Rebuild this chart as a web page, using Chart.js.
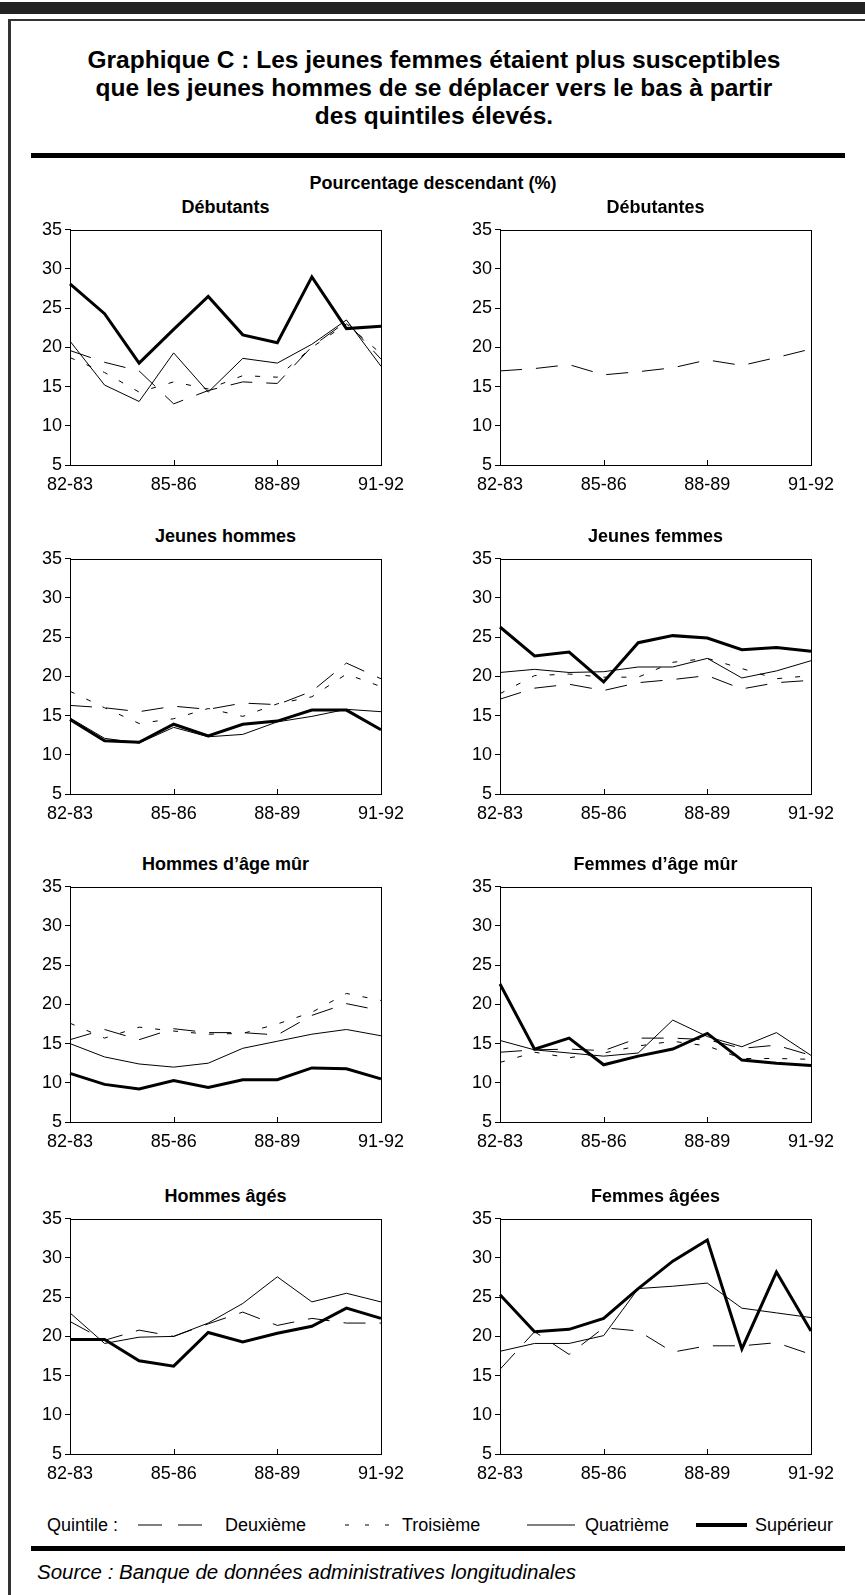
<!DOCTYPE html>
<html lang="fr">
<head>
<meta charset="utf-8">
<title>Graphique C</title>
<script src="https://cdn.jsdelivr.net/npm/chart.js@4.4.1/dist/chart.umd.min.js"></script>
<style>
  html, body { margin:0; padding:0; background:#fff; }
  body { width:865px; height:1595px; position:relative; overflow:hidden;
         font-family:"Liberation Sans", Arial, Helvetica, sans-serif; color:#000; }
  .abs { position:absolute; }
  #band { left:0; top:2px; width:865px; height:12px; background:#222; }
  #frameTop { left:8px; top:19px; width:857px; height:2px; background:#333; }
  #frameLeft { left:8px; top:19px; width:3px; height:1576px; background:#333; }
  #title { left:0; width:868px; top:46px; text-align:center; font-weight:bold; font-size:24.5px; line-height:28px; }
  .rule { left:31px; width:814px; height:5px; background:#000; }
  #subtitle { left:0; width:866px; top:172px; text-align:center; font-weight:bold; font-size:18px; line-height:22px; }
  .ptitle { font-weight:bold; font-size:18px; line-height:22px; text-align:center; white-space:nowrap; }
  .leg { font-size:18px; line-height:20px; white-space:nowrap; }
  #source { left:37px; top:1560px; font-style:italic; font-size:20.5px; line-height:24px; white-space:nowrap; }
  canvas { position:absolute; }
</style>
</head>
<body>
<div class="abs" id="band"></div>
<div class="abs" id="frameTop"></div>
<div class="abs" id="frameLeft"></div>
<div class="abs" id="title">Graphique C : Les jeunes femmes étaient plus susceptibles<br>que les jeunes hommes de se déplacer vers le bas à partir<br>des quintiles élevés.</div>
<div class="abs rule" style="top:153px"></div>
<div class="abs" id="subtitle">Pourcentage descendant (%)</div>
<div class="abs rule" style="top:1546px"></div>
<div class="abs" id="source">Source : Banque de données administratives longitudinales</div>

<script>
// x categories (years) and the tick labels actually printed
const seasons = ['82-83','83-84','84-85','85-86','86-87','87-88','88-89','89-90','90-91','91-92'];
const shownTicks = ['82-83','85-86','88-89','91-92'];
const yTicks = [5, 10, 15, 20, 25, 30, 35];
const quintiles = ['Deuxième', 'Troisième', 'Quatrième', 'Supérieur'];

// Débutants
const debQ2 = [19.6, 18.1, 17.0, 12.8, 14.5, 15.6, 15.4, 20.1, 23.3, 18.5];
const debQ3 = [18.7, 16.8, 14.3, 15.6, 14.7, 16.4, 16.2, 20.0, 23.0, 19.2];
const debQ4 = [20.8, 15.2, 13.1, 19.3, 14.3, 18.6, 18.0, 20.4, 23.5, 17.6];
const debQ5 = [28.1, 24.3, 18.0, 22.3, 26.5, 21.6, 20.6, 29.0, 22.4, 22.7];
// Débutantes
const debfQ2 = [17.0, 17.3, 17.8, 16.5, 16.9, 17.4, 18.4, 17.7, 18.7, 19.8];
// Jeunes hommes
const jhQ2 = [16.3, 16.0, 15.5, 16.2, 15.8, 16.6, 16.4, 18.1, 21.7, 19.7];
const jhQ3 = [18.1, 16.0, 14.0, 14.6, 15.9, 14.9, 16.5, 17.4, 20.3, 18.7];
const jhQ4 = [14.7, 12.1, 11.5, 13.5, 12.3, 12.6, 14.2, 14.9, 15.8, 15.5];
const jhQ5 = [14.5, 11.8, 11.6, 13.9, 12.4, 13.9, 14.3, 15.7, 15.7, 13.2];
// Jeunes femmes
const jfQ2 = [17.1, 18.5, 19.0, 18.2, 19.2, 19.6, 20.1, 18.4, 19.2, 19.5];
const jfQ3 = [17.8, 20.1, 20.3, 19.9, 19.9, 21.8, 22.3, 21.0, 19.7, 20.1];
const jfQ4 = [20.5, 20.9, 20.5, 20.6, 21.2, 21.2, 22.3, 19.8, 20.7, 22.0];
const jfQ5 = [26.3, 22.6, 23.1, 19.3, 24.3, 25.2, 24.9, 23.4, 23.7, 23.2];
// Hommes d'âge mûr
const hmQ2 = [15.5, 16.8, 15.5, 16.9, 16.4, 16.4, 16.1, 18.6, 20.1, 19.2];
const hmQ3 = [17.6, 15.7, 17.1, 16.6, 16.2, 16.3, 17.5, 19.0, 21.4, 20.5];
const hmQ4 = [15.0, 13.3, 12.4, 12.0, 12.5, 14.4, 15.3, 16.2, 16.8, 16.0];
const hmQ5 = [11.2, 9.8, 9.2, 10.3, 9.4, 10.4, 10.4, 11.9, 11.8, 10.5];
// Femmes d'âge mûr
const fmQ2 = [13.9, 14.2, 14.3, 14.1, 15.7, 15.7, 15.5, 14.4, 14.8, 13.5];
const fmQ3 = [12.6, 13.9, 13.2, 13.8, 14.7, 15.3, 14.7, 13.1, 13.1, 13.0];
const fmQ4 = [15.4, 14.2, 13.8, 13.4, 13.8, 18.0, 15.9, 14.6, 16.4, 13.5];
const fmQ5 = [22.6, 14.3, 15.7, 12.3, 13.4, 14.3, 16.3, 12.9, 12.5, 12.2];
// Hommes âgés
const haQ2 = [21.9, 19.5, 20.8, 20.0, 21.6, 23.1, 21.4, 22.3, 21.7, 21.7];
const haQ4 = [23.0, 19.1, 19.9, 20.0, 21.7, 24.2, 27.6, 24.4, 25.5, 24.4];
const haQ5 = [19.6, 19.6, 16.9, 16.2, 20.5, 19.3, 20.4, 21.3, 23.6, 22.3];
// Femmes âgées
const faQ2 = [15.8, 20.6, 17.7, 21.1, 20.7, 18.0, 18.8, 18.8, 19.2, 17.7];
const faQ4 = [18.1, 19.1, 19.1, 20.1, 26.1, 26.4, 26.8, 23.6, 23.0, 22.4];
const faQ5 = [25.3, 20.6, 20.9, 22.3, 26.1, 29.6, 32.3, 18.4, 28.2, 20.7];

// panel list: title + series in quintile order (null = not drawn)
const panels = [
  { title: 'Débutants',        series: [debQ2, debQ3, debQ4, debQ5] },
  { title: 'Débutantes',       series: [debfQ2, null, null, null] },
  { title: 'Jeunes hommes',    series: [jhQ2, jhQ3, jhQ4, jhQ5] },
  { title: 'Jeunes femmes',    series: [jfQ2, jfQ3, jfQ4, jfQ5] },
  { title: 'Hommes d’âge mûr', series: [hmQ2, hmQ3, hmQ4, hmQ5] },
  { title: 'Femmes d’âge mûr', series: [fmQ2, fmQ3, fmQ4, fmQ5] },
  { title: 'Hommes âgés',      series: [haQ2, null, haQ4, haQ5] },
  { title: 'Femmes âgées',     series: [faQ2, null, faQ4, faQ5] }
];

// line look for each quintile
const lineStyle = [
  { width: 1, dash: [22, 14], legendDash: '24 16' },
  { width: 1, dash: [5, 13],  legendDash: '4 16' },
  { width: 1, dash: [],       legendDash: '' },
  { width: 3, dash: [],       legendDash: '' }
];

// layout of the grid of panels
const colLeft = [70, 500];
const rowTop = [228, 557, 885, 1217];
const plotW = 311, plotH = 237;
const padL = 60, padT = 12, padR = 32, padB = 40;

Chart.defaults.font.family = '"Liberation Sans", Arial, Helvetica, sans-serif';
Chart.defaults.font.size = 18;
Chart.defaults.color = '#000';

// box around plot area + small inward ticks on the x axis
const boxPlugin = {
  id: 'box',
  afterDraw(chart) {
    const a = chart.chartArea, ctx = chart.ctx, xs = chart.scales.x;
    ctx.save();
    ctx.strokeStyle = '#000';
    ctx.lineWidth = 1;
    ctx.strokeRect(Math.round(a.left) + 0.5, Math.round(a.top) + 0.5,
                   Math.round(a.right - a.left), Math.round(a.bottom - a.top));
    ctx.beginPath();
    shownTicks.forEach(l => {
      const px = Math.round(xs.getPixelForValue(seasons.indexOf(l))) + 0.5;
      ctx.moveTo(px, a.bottom);
      ctx.lineTo(px, a.bottom - 5);
    });
    ctx.stroke();
    ctx.restore();
  }
};

panels.forEach((p, k) => {
  const col = k % 2, row = Math.floor(k / 2);
  const left = colLeft[col], top = rowTop[row];

  const t = document.createElement('div');
  t.className = 'abs ptitle';
  t.style.left = (left - 100) + 'px';
  t.style.width = (plotW + 200) + 'px';
  t.style.top = (top - 32) + 'px';
  t.textContent = p.title;
  document.body.appendChild(t);

  const cv = document.createElement('canvas');
  const w = plotW + padL + padR, h = plotH + padT + padB;
  cv.width = w; cv.height = h;
  cv.style.left = (left - padL) + 'px';
  cv.style.top = (top - padT) + 'px';
  cv.style.width = w + 'px';
  cv.style.height = h + 'px';
  document.body.appendChild(cv);

  const datasets = [];
  p.series.forEach((s, q) => {
    if (!s) return;
    datasets.push({
      label: quintiles[q],
      data: s,
      borderColor: '#000',
      borderWidth: lineStyle[q].width,
      borderDash: lineStyle[q].dash,
      pointRadius: 0,
      tension: 0,
      fill: false,
      order: 3 - q
    });
  });

  new Chart(cv, {
    type: 'line',
    data: { labels: seasons, datasets: datasets },
    options: {
      responsive: false,
      animation: false,
      devicePixelRatio: 1,
      layout: { padding: { left: 0, top: padT, right: padR, bottom: 0 } },
      plugins: { legend: { display: false }, tooltip: { enabled: false } },
      scales: {
        x: {
          offset: false,
          grid: { display: false, drawTicks: false },
          border: { display: true, color: '#000', width: 1 },
          ticks: {
            autoSkip: false, maxRotation: 0, minRotation: 0, padding: 9,
            callback: function (v) {
              const l = this.getLabelForValue(v);
              return shownTicks.includes(l) ? l : '';
            }
          },
          afterFit: s => { s.height = padB; }
        },
        y: {
          min: 5, max: 35,
          grid: { drawOnChartArea: false, drawTicks: true, tickLength: 5, color: '#000' },
          border: { display: true, color: '#000', width: 1 },
          ticks: { padding: 3 },
          afterBuildTicks: s => { s.ticks = yTicks.map(v => ({ value: v })); },
          afterFit: s => { s.width = padL; }
        }
      }
    },
    plugins: [boxPlugin]
  });
});

// legend row at the bottom
const legY = 1525;
const legItems = [
  { x: 138, w: 64, text: 225 },
  { x: 345, w: 45, text: 402 },
  { x: 527, w: 48, text: 585 },
  { x: 696, w: 51, text: 755 }
];
function addText(x, txt) {
  const d = document.createElement('div');
  d.className = 'abs leg';
  d.style.left = x + 'px';
  d.style.top = (legY - 10) + 'px';
  d.textContent = txt;
  document.body.appendChild(d);
}
addText(47, 'Quintile :');
legItems.forEach((it, q) => {
  const sw = lineStyle[q].width === 3 ? 4 : 1;
  const svg = document.createElementNS('http://www.w3.org/2000/svg', 'svg');
  svg.setAttribute('width', it.w);
  svg.setAttribute('height', 8);
  svg.setAttribute('class', 'abs');
  svg.style.left = it.x + 'px';
  svg.style.top = (legY - 4) + 'px';
  const ln = document.createElementNS('http://www.w3.org/2000/svg', 'line');
  ln.setAttribute('x1', 0); ln.setAttribute('x2', it.w);
  ln.setAttribute('y1', 4); ln.setAttribute('y2', 4);
  ln.setAttribute('stroke', '#000');
  ln.setAttribute('stroke-width', sw);
  if (lineStyle[q].legendDash) ln.setAttribute('stroke-dasharray', lineStyle[q].legendDash);
  svg.appendChild(ln);
  document.body.appendChild(svg);
  addText(it.text, quintiles[q]);
});
</script>
</body>
</html>
